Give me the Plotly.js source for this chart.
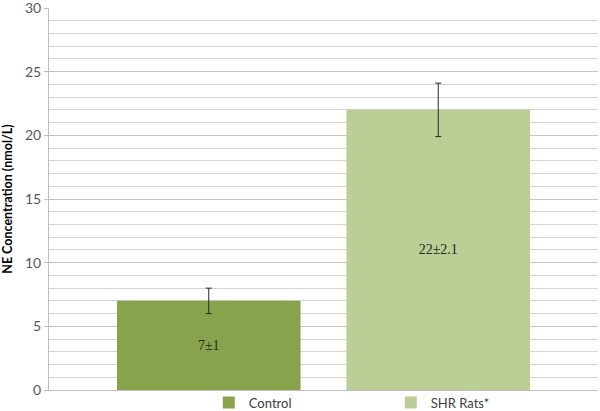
<!DOCTYPE html>
<html>
<head>
<meta charset="utf-8">
<script src="https://cdn.plot.ly/plotly-3.0.1.min.js"></script>
<style>
  html, body { margin: 0; padding: 0; background: #fff; }
  #chart { width: 600px; height: 411px; }
</style>
</head>
<body>
<div id="chart"></div>
<script>
// ------------------------------
// NE concentration data
// ------------------------------
var groups = ['Control', 'SHR Rats*'];
var means = [7, 22];
var errors = [1, 2.1];
var labels = ['7±1', '22±2.1'];
var colors = ['#88A34C', '#BBCE96'];
var category = [''];

var data = groups.map(function (name, i) {
  return {
    type: 'bar',
    name: name,
    x: category,
    y: [means[i]],
    text: [labels[i]],
    textposition: 'inside',
    insidetextanchor: 'middle',
    textangle: 0,
    textfont: { family: 'Liberation Serif, DejaVu Serif, serif', size: 14, color: '#262626' },
    marker: { color: colors[i], line: { width: 0 } },
    error_y: {
      type: 'data',
      array: [errors[i]],
      visible: true,
      color: '#262626',
      thickness: 1,
      width: 3
    },
    hoverinfo: 'skip'
  };
});

var layout = {
  width: 600,
  height: 411,
  margin: { l: 49, r: 2, t: 8, b: 21, autoexpand: false },
  paper_bgcolor: '#fff',
  plot_bgcolor: '#fff',
  barmode: 'group',
  bargap: 0.164,
  bargroupgap: 0.2,
  font: { family: 'Lato, Open Sans, sans-serif', color: '#595959' },
  showlegend: true,
  legend: {
    orientation: 'h',
    xref: 'container',
    yref: 'container',
    x: 0.348,
    xanchor: 'left',
    y: 0.057,
    yanchor: 'top',
    entrywidth: 137,
    bgcolor: 'rgba(0,0,0,0)',
    font: { size: 13, color: '#404040' },
    traceorder: 'normal'
  },
  xaxis: {
    showticklabels: false,
    showline: true,
    linecolor: '#bfbfbf',
    linewidth: 1,
    ticks: '',
    automargin: false,
    fixedrange: true
  },
  yaxis: {
    range: [0, 30],
    dtick: 5,
    tickfont: { size: 14, color: '#595959' },
    ticklabeloverflow: 'allow',
    showline: true,
    linecolor: '#bfbfbf',
    linewidth: 1,
    ticks: 'outside',
    ticklen: 4,
    tickcolor: '#bfbfbf',
    showgrid: true,
    gridcolor: '#c4c4c4',
    zeroline: false,
    minor: { dtick: 1, showgrid: true, gridcolor: '#d4d4d4', ticks: '' },
    automargin: false,
    title: {
      text: 'NE Concentration (nmol/L)',
      font: { size: 12.5, color: '#000', weight: 'bold' },
      standoff: 10
    },
    fixedrange: true
  }
};

Plotly.newPlot('chart', data, layout, { staticPlot: true, displayModeBar: false });
</script>
</body>
</html>
